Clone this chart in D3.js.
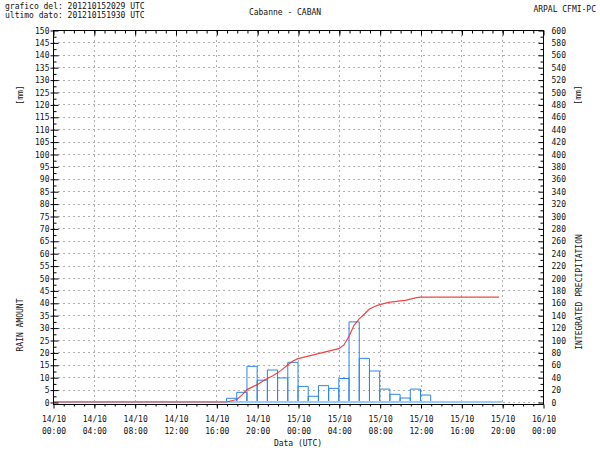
<!DOCTYPE html>
<html><head><meta charset="utf-8">
<script src="https://cdn.jsdelivr.net/npm/d3@7"></script>
<style>body{margin:0;background:#fff}svg{display:block}</style>
</head><body><svg id="c" width="600" height="450"></svg>
<script>
// ---- data ----
const startTime = Date.UTC(2012, 9, 14, 0, 0);          // 14/10 00:00 UTC
const endTime = Date.UTC(2012, 9, 16, 0, 0);            // 16/10 00:00 UTC
// hourly rain (mm), hour offset from 14/10 00:00
const rainHours = d3.range(0, 44);
const rainValues = [0,0,0,0,0,0,0,0,0,0,0,0,0,0,0,0,0,
  1.5,3.9,14.4,8.8,12.9,9.7,16,6.3,2.3,6.6,5.5,9.5,32.3,17.6,12.5,5.2,3.1,1.6,5.2,2.8,
  0,0,0,0,0,0,0];
// integrated precipitation (mm), hour offsets
const cumHours = [0,17,17.5,18,18.5,19,19.5,20,20.5,21,21.5,22,22.5,23,23.5,24,24.5,25,25.5,26,26.5,27,27.5,28,28.5,29,29.5,30,30.5,31,31.5,32,32.5,33,33.5,34,34.5,35,35.5,36,43.7];
const cumValues = [0,0,2,4,11,20,24,28,33,38,42,47,53,60,66,70,72,74,76,78,80,82,84,86,92,106,124,134,142,150,154,157,159,161,162,163,164,166,168,169,169];
const leftTicks = d3.range(0, 151, 5);
const rightTicks = d3.range(0, 601, 20);
const xTickHours = d3.range(0, 49, 4);

const hourMs = 3600000;
const T = h => new Date(startTime + h * hourMs);

const svg = d3.select("#c");
const L = 53, R = 543, TOP = 30, BOT = 404;
const x = d3.scaleUtc().domain([new Date(startTime), new Date(endTime)]).range([L, R]);
const y = d3.scaleLinear().domain([0, 150]).range([402, TOP]);
const y2 = d3.scaleLinear().domain([0, 600]).range([402, TOP]);
const FONT = "DejaVu Sans Mono";
const FS = 8;

// grid
const g = svg.append("g");
g.selectAll("line.h").data(leftTicks.filter(v => v > 0 && v < 150)).join("line")
  .attr("x1", L).attr("x2", R).attr("y1", d => Math.round(y(d)) + 0.5).attr("y2", d => Math.round(y(d)) + 0.5)
  .attr("stroke", "#b0b0b0").attr("stroke-dasharray", "2,3");
g.selectAll("line.v").data(xTickHours.filter(h => h > 0 && h < 48)).join("line")
  .attr("y1", TOP).attr("y2", BOT).attr("x1", d => Math.round(x(T(d))) + 0.5).attr("x2", d => Math.round(x(T(d))) + 0.5)
  .attr("stroke", "#b0b0b0").attr("stroke-dasharray", "2,3");
g.append("line").attr("x1", L).attr("x2", R).attr("y1", 402.5).attr("y2", 402.5)
  .attr("stroke", "#b0b0b0").attr("stroke-dasharray", "2,3");

// bars
const bars = rainHours.map((h, i) => ({h, v: rainValues[i]}));
svg.append("g").selectAll("path").data(bars).join("path")
  .attr("d", d => {
    const x0 = x(T(d.h)), x1 = x(T(d.h + 1)), y0 = y(0), y1 = y(d.v);
    return `M${x0},${y0}V${y1}H${x1}V${y0}`;
  })
  .attr("fill", "none").attr("stroke", "#2a86e8").attr("stroke-width", 1);
svg.append("line").attr("x1", x(T(0))).attr("x2", x(T(44))).attr("y1", 402).attr("y2", 402)
  .attr("stroke", "#9cccf4").attr("stroke-width", 2);

// cumulative line
const line = d3.line().x(d => x(T(d[0]))).y(d => y2(d[1]));
svg.append("path").datum(cumHours.map((h, i) => [h, cumValues[i]]))
  .attr("d", line).attr("fill", "none").attr("stroke", "#f03030").attr("stroke-width", 1.2)
  .attr("stroke-opacity", 0.9);

// frame
svg.append("rect").attr("x", L + 0.5).attr("y", TOP + 0.5).attr("width", R - L).attr("height", BOT - TOP)
  .attr("fill", "none").attr("stroke", "#000");

function styleAxis(sel) {
  sel.select(".domain").remove();
  sel.selectAll("line").attr("stroke", "#000");
  sel.selectAll("text").attr("font-family", FONT).attr("font-size", FS).attr("fill", "#111");
}
// left axis
svg.append("g").attr("transform", `translate(${L + 0.5},0.5)`)
  .call(d3.axisLeft(y).tickValues(leftTicks).tickSize(-5).tickPadding(4).tickFormat(d3.format("d"))).call(styleAxis);
svg.append("g").attr("transform", `translate(${L + 0.5},0.5)`)
  .call(d3.axisLeft(y).tickValues(d3.range(2.5, 150, 5)).tickSize(-3).tickFormat("")).call(styleAxis);
svg.append("g").attr("transform", `translate(${L + 0.5},0.5)`)
  .call(d3.axisLeft(y).tickValues(leftTicks).tickSize(3).tickFormat("")).call(styleAxis);
// right axis
svg.append("g").attr("transform", `translate(${R + 0.5},0.5)`)
  .call(d3.axisRight(y2).tickValues(rightTicks).tickSize(-5).tickPadding(8).tickFormat(d3.format("d"))).call(styleAxis);
svg.append("g").attr("transform", `translate(${R + 0.5},0.5)`)
  .call(d3.axisRight(y2).tickValues(d3.range(10, 600, 20)).tickSize(-3).tickFormat("")).call(styleAxis);
// bottom axis
const bx = svg.append("g").attr("transform", `translate(0.5,${BOT + 0.5})`)
  .call(d3.axisBottom(x).tickValues(xTickHours.map(T)).tickSize(4).tickPadding(6).tickFormat("")).call(styleAxis);
bx.selectAll(".tick").append("text").attr("font-family", FONT).attr("font-size", FS).attr("fill", "#111")
  .attr("text-anchor", "middle")
  .call(t => t.append("tspan").attr("x", 0).attr("y", 17).text(d => d3.utcFormat("%d/%m")(d)))
  .call(t => t.append("tspan").attr("x", 0).attr("y", 29).text(d => d3.utcFormat("%H:%M")(d)));
svg.append("g").attr("transform", `translate(0.5,${BOT + 0.5})`)
  .call(d3.axisBottom(x).tickValues(d3.range(1, 48).map(T)).tickSize(2).tickFormat("")).call(styleAxis);
// top axis
svg.append("g").attr("transform", `translate(0.5,${TOP + 0.5})`)
  .call(d3.axisTop(x).tickValues(xTickHours.map(T)).tickSize(-5).tickFormat("")).call(styleAxis);
svg.append("g").attr("transform", `translate(0.5,${TOP + 0.5})`)
  .call(d3.axisTop(x).tickValues(d3.range(1, 48).map(T)).tickSize(-3).tickFormat("")).call(styleAxis);

// texts
const txt = (s, xx, yy, anchor, rot) => {
  const t = svg.append("text").attr("font-family", FONT).attr("font-size", FS).attr("fill", "#111")
    .attr("text-anchor", anchor || "start").text(s);
  if (rot) t.attr("transform", `translate(${xx},${yy}) rotate(-90)`).attr("dy", "0.35em");
  else t.attr("x", xx).attr("y", yy);
  return t;
};
txt("grafico del: 201210152029 UTC", 5, 9);
txt("ultimo dato: 201210151930 UTC", 5, 18);
txt("Cabanne - CABAN", 285, 15, "middle");
txt("ARPAL CFMI-PC", 596, 12, "end");
txt("Data (UTC)", 298, 446, "middle");
txt("[mm]", 20, 95, "middle", true);
txt("RAIN AMOUNT", 20, 325, "middle", true);
txt("[mm]", 578, 95, "middle", true);
txt("INTEGRATED PRECIPITATION", 579, 292, "middle", true);
</script></body></html>
